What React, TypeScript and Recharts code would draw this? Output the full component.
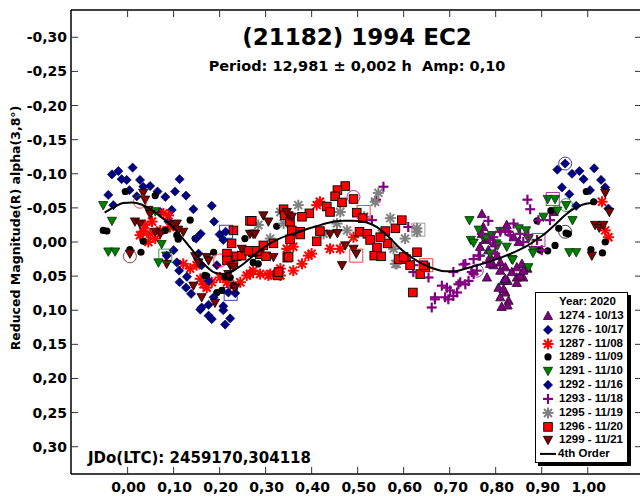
import React from 'react';
import { ScatterChart, Scatter, XAxis, YAxis } from 'recharts';

type Pt = [number, number];

// phase (x) and reduced magnitude (y)
const xTicks = [0, 0.1, 0.2, 0.3, 0.4, 0.5, 0.6, 0.7, 0.8, 0.9, 1.0];
const yTicks = [-0.3, -0.25, -0.2, -0.15, -0.1, -0.05, 0, 0.05, 0.1, 0.15, 0.2, 0.25, 0.3];

const s1274: Pt[] = [
  [0.770, -0.041], [0.773, -0.022], [0.770, -0.012], [0.777, -0.003], [0.766, 0.007], [0.784, 0.012],
  [0.797, 0.002], [0.788, 0.022], [0.803, 0.020], [0.810, 0.030], [0.795, 0.034], [0.821, 0.037],
  [0.835, 0.044], [0.846, 0.037], [0.857, 0.032], [0.869, 0.039], [0.846, 0.052], [0.860, 0.052],
  [0.817, 0.057], [0.826, 0.057], [0.781, 0.052], [0.806, 0.067], [0.821, 0.074], [0.810, 0.081],
  [0.828, 0.086], [0.813, 0.095], [0.826, 0.093], [0.839, -0.007], [0.850, 0.000], [0.824, -0.025],
  [0.926, -0.044], [0.788, 0.032], [0.810, 0.042], [0.821, 0.054], [0.817, 0.069], [0.853, 0.050],
  [0.846, 0.060], [0.860, 0.042],
];

const s1276: Pt[] = [
  [-0.034, -0.099], [-0.020, -0.104], [-0.013, -0.092], [-0.002, -0.091], [0.011, -0.109], [0.027, -0.091],
  [0.034, -0.081], [0.049, -0.082], [0.004, -0.076], [-0.042, -0.069], [-0.031, -0.054], [0.020, -0.067],
  [0.065, -0.074], [0.082, -0.066], [0.103, -0.074], [0.113, -0.092], [0.127, -0.068], [0.096, -0.047],
  [0.071, -0.044], [0.089, -0.030], [0.143, -0.048], [0.183, -0.053], [0.188, -0.030],
  [0.951, -0.115], [0.934, -0.106], [0.966, -0.100], [0.982, -0.104], [0.991, -0.092], [1.014, -0.108],
  [1.029, -0.091], [0.944, -0.080], [0.960, -0.070], [1.005, -0.076], [1.038, -0.080], [0.975, -0.053],
  [1.045, -0.049],
];

const s1287: Pt[] = [
  [0.034, -0.015], [0.049, -0.012], [0.060, -0.005], [0.071, -0.017], [0.078, -0.042], [0.089, -0.039],
  [0.038, -0.025], [0.053, -0.030], [0.092, -0.022], [0.121, 0.032], [0.136, 0.039], [0.150, 0.034],
  [0.158, 0.054], [0.172, 0.067], [0.183, 0.059], [0.201, 0.052], [0.216, 0.059], [0.230, 0.064],
  [0.245, 0.059], [0.259, 0.049], [0.273, 0.042], [0.288, 0.047], [0.027, -0.010], [0.045, 0.000],
  [0.165, 0.062], [0.266, 0.047], [0.310, 0.047], [0.332, 0.049], [0.360, 0.042], [0.379, 0.032],
  [0.393, 0.020], [0.306, 0.049], [0.332, 0.039], [0.346, 0.010], [0.360, 0.007], [0.400, 0.017],
  [0.440, 0.010], [0.462, 0.010], [0.491, -0.007], [0.418, -0.059], [0.411, -0.054],
  [1.031, -0.059], [1.038, -0.017], [1.045, -0.007],
];

const s1289: Pt[] = [
  [-0.053, -0.017], [-0.045, -0.016], [0.005, 0.011], [0.029, 0.015], [-0.005, -0.074], [0.060, -0.068],
  [0.034, -0.001], [0.082, -0.017], [0.107, -0.010], [0.136, -0.032], [0.110, -0.004], [0.147, -0.005],
  [0.187, 0.015], [0.168, 0.049], [0.172, 0.050], [0.212, 0.051], [0.223, 0.052], [0.205, 0.071],
  [0.194, 0.074], [0.255, -0.005], [0.273, 0.030], [0.284, 0.032], [0.324, -0.023], [0.230, 0.064],
  [0.997, -0.074], [1.013, -0.059], [0.920, -0.046], [0.890, -0.031], [0.937, -0.020], [0.953, -0.013],
  [0.958, -0.012], [0.929, 0.005], [0.913, 0.013], [0.897, 0.012], [1.007, 0.011], [1.032, 0.016],
  [1.038, 0.000],
];

const s1291: Pt[] = [
  [0.743, -0.032], [0.746, -0.003], [0.773, -0.007], [0.810, -0.016], [0.824, 0.007], [0.835, 0.025],
  [0.850, -0.020], [0.866, -0.017], [0.871, -0.005], [0.882, 0.012], [0.904, -0.037], [0.913, -0.063],
  [0.929, -0.063], [0.934, -0.046], [0.953, -0.054], [0.967, -0.032], [0.960, 0.015], [0.975, 0.015],
  [0.763, -0.018], [0.788, 0.017], [0.801, 0.002], [0.752, 0.001], [0.779, -0.006], [0.792, -0.010],
  [0.804, 0.005], [0.837, 0.026], [0.871, 0.037], [0.881, 0.016], [-0.053, -0.054], [-0.034, -0.031],
  [-0.042, 0.014], [-0.027, 0.014], [0.060, -0.045], [0.067, 0.030], [0.084, 0.020], [0.074, 0.003],
];

const s1292: Pt[] = [
  [0.159, -0.012], [0.149, -0.005], [0.200, -0.011], [0.208, -0.003], [0.213, -0.015], [0.107, 0.030],
  [0.112, 0.042], [0.129, 0.051], [0.113, 0.059], [0.127, 0.067], [0.138, 0.076], [0.161, 0.034],
  [0.176, 0.057], [0.194, 0.034], [0.154, 0.017], [0.161, 0.096], [0.176, 0.092], [0.187, 0.081],
  [0.208, 0.094], [0.219, 0.074], [0.234, 0.075], [0.100, 0.012], [0.085, 0.020], [0.158, 0.099],
  [0.176, 0.108], [0.183, 0.113], [0.208, 0.100], [0.223, 0.112], [0.212, 0.121],
];

const s1293: Pt[] = [
  [0.556, -0.081], [0.540, -0.062], [0.531, -0.032], [0.610, -0.022], [0.621, 0.034], [0.654, 0.052],
  [0.683, 0.064], [0.668, 0.081], [0.661, 0.096], [0.621, 0.044], [0.701, 0.071], [0.716, 0.074],
  [0.668, 0.084], [0.697, 0.084], [0.723, 0.059], [0.734, 0.062], [0.734, 0.032], [0.708, 0.044],
  [0.748, 0.044], [0.759, 0.042], [0.766, 0.020], [0.781, 0.030], [0.799, 0.017], [0.770, -0.012],
  [0.788, -0.003], [0.799, 0.005], [0.810, -0.015], [0.828, -0.015], [0.853, -0.012], [0.860, 0.000],
  [0.890, -0.003], [0.900, 0.012], [0.869, -0.062], [0.875, -0.048], [0.893, -0.032], [0.839, -0.027],
  [0.821, -0.017], [0.832, -0.010], [0.871, -0.010], [0.918, -0.032], [0.784, -0.031], [0.795, -0.007],
  [0.763, 0.020], [0.752, 0.025], [0.730, 0.033], [0.741, 0.057], [0.719, 0.062], [0.694, 0.067],
  [0.690, 0.081], [0.708, 0.079], [0.752, 0.047],
];

const s1295: Pt[] = [
  [0.371, -0.054], [0.332, -0.044], [0.462, -0.044], [0.545, -0.072], [0.538, -0.059], [0.571, -0.035],
  [0.629, -0.020], [0.603, -0.005], [0.585, 0.032], [0.477, -0.017], [0.455, -0.027], [0.426, -0.012],
  [0.339, -0.027], [0.310, -0.005], [0.514, -0.037], [0.553, -0.012], [0.578, 0.010], [0.582, 0.032],
  [0.629, -0.015], [0.284, -0.025],
];

const s1296: Pt[] = [
  [0.473, -0.082], [0.456, -0.076], [0.451, -0.067], [0.466, -0.058], [0.491, -0.063], [0.433, -0.052],
  [0.440, -0.044], [0.498, -0.043], [0.511, -0.035], [0.395, -0.042], [0.379, -0.037], [0.339, -0.048],
  [0.342, -0.039], [0.353, -0.030], [0.357, -0.017], [0.375, -0.015], [0.418, -0.016], [0.411, -0.001],
  [0.504, -0.015], [0.521, -0.012], [0.527, -0.003], [0.542, 0.008], [0.536, 0.020], [0.551, 0.021],
  [0.565, 0.002], [0.560, -0.016], [0.582, -0.020], [0.596, -0.032], [0.589, 0.025], [0.605, 0.025],
  [0.614, 0.034], [0.629, 0.015], [0.636, 0.047], [0.647, 0.037], [0.620, 0.074], [0.266, -0.031],
  [0.287, 0.018], [0.301, 0.021], [0.347, 0.023], [0.326, 0.049], [0.272, 0.015], [0.216, 0.017],
  [0.230, 0.030], [0.237, 0.021], [0.248, 0.020], [0.263, 0.013], [0.281, 0.013], [0.295, 0.005],
  [0.317, 0.002], [0.353, -0.004], [0.375, -0.011], [0.328, 0.044], [0.350, 0.022], [0.216, 0.027],
  [0.226, 0.002], [0.230, -0.017], [0.270, -0.031], [0.549, -0.007], [0.600, 0.022], [0.643, 0.034],
];

const s1299: Pt[] = [
  [0.034, -0.072], [0.038, -0.062], [0.016, -0.030], [0.027, -0.027], [0.045, -0.047], [0.049, -0.041],
  [0.060, -0.015], [0.071, -0.012], [0.100, -0.025], [0.107, -0.027], [0.121, -0.015], [0.110, -0.018],
  [0.085, 0.032], [0.005, 0.017], [0.147, 0.021], [0.154, 0.030], [0.172, 0.022], [0.176, 0.027],
  [0.143, 0.064], [0.161, 0.081], [0.190, 0.089], [0.219, 0.047], [0.223, 0.034], [0.230, 0.037],
  [0.234, 0.067], [0.248, 0.010], [0.266, -0.012], [0.273, -0.012], [0.295, -0.039], [0.306, -0.030],
  [0.350, -0.039], [0.357, -0.037], [0.346, -0.044], [0.440, -0.012], [0.456, -0.013], [0.473, 0.005],
  [0.491, 0.010], [0.497, 0.017], [0.466, 0.034], [0.277, -0.012], [0.317, 0.022],
  [1.038, -0.072], [1.047, -0.044], [1.016, -0.025], [1.025, -0.021], [1.034, -0.025], [1.009, 0.020],
];

// 4th order fit
const fit4: Pt[] = [
  [-0.05, -0.043], [-0.03, -0.051], [-0.01, -0.057], [0.01, -0.058], [0.03, -0.055], [0.05, -0.048],
  [0.07, -0.038], [0.09, -0.027], [0.11, -0.013], [0.13, 0.003], [0.15, 0.020], [0.17, 0.035],
  [0.19, 0.045], [0.21, 0.047], [0.23, 0.042], [0.25, 0.033], [0.27, 0.022], [0.29, 0.011],
  [0.31, 0.002], [0.33, -0.005], [0.35, -0.010], [0.37, -0.014], [0.39, -0.019], [0.41, -0.023],
  [0.43, -0.027], [0.45, -0.030], [0.47, -0.031], [0.49, -0.031], [0.51, -0.030], [0.53, -0.026],
  [0.55, -0.018], [0.57, -0.006], [0.59, 0.008], [0.61, 0.019], [0.63, 0.028], [0.65, 0.035],
  [0.67, 0.040], [0.69, 0.043], [0.71, 0.043], [0.73, 0.040], [0.75, 0.036], [0.77, 0.032],
  [0.79, 0.028], [0.81, 0.023], [0.83, 0.018], [0.85, 0.012], [0.87, 0.005], [0.89, -0.004],
  [0.91, -0.014], [0.93, -0.026], [0.95, -0.039], [0.97, -0.049], [0.99, -0.055], [1.01, -0.057],
];

// first point of each session, marked with an open circle or square
const ringMarks = [
  { set: '1299', x: 0.005, y: 0.021 }, { set: '1287', x: 0.027, y: -0.059 }, { set: '1287', x: 0.201, y: 0.027 },
  { set: '1293', x: 0.491, y: -0.066 }, { set: '1293', x: 0.759, y: 0.042 }, { set: '1291', x: 0.953, y: -0.054 },
  { set: '1289', x: 0.951, y: -0.015 }, { set: '1276', x: 0.951, y: -0.115 },
];
const boxMarks = [
  { set: '1291', x: 0.082, y: 0.020 }, { set: '1276', x: 0.214, y: -0.015 }, { set: '1292', x: 0.224, y: 0.076 },
  { set: '1296', x: 0.497, y: 0.020 }, { set: '1296', x: 0.513, y: -0.044 }, { set: '1296', x: 0.649, y: 0.034 },
  { set: '1295', x: 0.632, y: -0.018 }, { set: '1274', x: 0.924, y: -0.063 }, { set: '1274', x: 0.893, y: -0.003 },
];

const sessions = [
  { key: '1274', label: '1274 - 10/13', pts: s1274 },
  { key: '1276', label: '1276 - 10/17', pts: s1276 },
  { key: '1287', label: '1287 - 11/08', pts: s1287 },
  { key: '1289', label: '1289 - 11/09', pts: s1289 },
  { key: '1291', label: '1291 - 11/10', pts: s1291 },
  { key: '1292', label: '1292 - 11/16', pts: s1292 },
  { key: '1293', label: '1293 - 11/18', pts: s1293 },
  { key: '1295', label: '1295 - 11/19', pts: s1295 },
  { key: '1296', label: '1296 - 11/20', pts: s1296 },
  { key: '1299', label: '1299 - 11/21', pts: s1299 },
];

type Kind = 'triUp' | 'triDown' | 'diamond' | 'star' | 'circle' | 'plus' | 'square';

const look: Record<string, { kind: Kind; fill: string; stroke: string }> = {
  '1274': { kind: 'triUp', fill: '#800080', stroke: '#2a002a' },
  '1276': { kind: 'diamond', fill: '#000080', stroke: '#000050' },
  '1287': { kind: 'star', fill: '#ff0000', stroke: '#ff0000' },
  '1289': { kind: 'circle', fill: '#000000', stroke: '#000000' },
  '1291': { kind: 'triDown', fill: '#008000', stroke: '#003000' },
  '1292': { kind: 'diamond', fill: '#000080', stroke: '#000050' },
  '1293': { kind: 'plus', fill: '#800080', stroke: '#800080' },
  '1295': { kind: 'star', fill: '#808080', stroke: '#808080' },
  '1296': { kind: 'square', fill: '#ff0000', stroke: '#000000' },
  '1299': { kind: 'triDown', fill: '#800000', stroke: '#000000' },
};

const FONT = '"DejaVu Sans", sans-serif';
const fmt = (v: number) => (v < -0.0001 ? '-' : '') + Math.abs(v).toFixed(2).replace('.', ',');
const toXY = (pts: Pt[]) => pts.map(([x, y]) => ({ x, y }));

function Marker({ kind, cx, cy, fill, stroke }: { kind: Kind; cx: number; cy: number; fill: string; stroke: string }) {
  if (cx == null || cy == null) return <g />;
  switch (kind) {
    case 'triUp':
      return <polygon points={`${cx},${cy - 4.8} ${cx + 4.6},${cy + 3.6} ${cx - 4.6},${cy + 3.6}`} fill={fill} stroke={stroke} strokeWidth={0.8} />;
    case 'triDown':
      return <polygon points={`${cx},${cy + 4.8} ${cx + 4.6},${cy - 3.6} ${cx - 4.6},${cy - 3.6}`} fill={fill} stroke={stroke} strokeWidth={0.8} />;
    case 'diamond':
      return <polygon points={`${cx},${cy - 4.6} ${cx + 4.6},${cy} ${cx},${cy + 4.6} ${cx - 4.6},${cy}`} fill={fill} stroke={stroke} strokeWidth={0.6} />;
    case 'square':
      return <rect x={cx - 4.3} y={cy - 4.3} width={8.6} height={8.6} fill={fill} stroke={stroke} strokeWidth={0.9} />;
    case 'circle':
      return <circle cx={cx} cy={cy} r={3.6} fill={fill} />;
    case 'plus':
      return (
        <g stroke={stroke} strokeWidth={2.2}>
          <line x1={cx - 5} y1={cy} x2={cx + 5} y2={cy} />
          <line x1={cx} y1={cy - 5} x2={cx} y2={cy + 5} />
        </g>
      );
    case 'star':
      return (
        <g stroke={stroke} strokeWidth={2}>
          <line x1={cx - 5.5} y1={cy} x2={cx + 5.5} y2={cy} />
          <line x1={cx} y1={cy - 5.5} x2={cx} y2={cy + 5.5} />
          <line x1={cx - 4} y1={cy - 4} x2={cx + 4} y2={cy + 4} />
          <line x1={cx - 4} y1={cy + 4} x2={cx + 4} y2={cy - 4} />
        </g>
      );
  }
  return <g />;
}

const tickText = { fontFamily: FONT, fontWeight: 700, fontSize: 14, fill: '#000' };

function BottomTick({ x, y, payload }: any) {
  return (
    <g>
      <line x1={x} y1={y} x2={x} y2={y - 7} stroke="#333" />
      <text x={x + 1} y={y + 18} textAnchor="middle" {...tickText}>{fmt(payload.value)}</text>
    </g>
  );
}
function TopTick({ x, y }: any) {
  return <line x1={x} y1={y} x2={x} y2={y + 7} stroke="#333" />;
}
function LeftTick({ x, y, payload }: any) {
  return (
    <g>
      <line x1={x} y1={y} x2={x + 7} y2={y} stroke="#333" />
      <text x={x - 4} y={y + 5} textAnchor="end" {...tickText}>{fmt(payload.value)}</text>
    </g>
  );
}
function RightTick({ x, y }: any) {
  return <line x1={x} y1={y} x2={x - 7} y2={y} stroke="#333" />;
}

const X_DOMAIN: [number, number] = [-0.123, 1.118];
const Y_DOMAIN: [number, number] = [-0.34, 0.34];
const axisLine = { stroke: '#000', strokeWidth: 1.5 };

function Legend() {
  const rowH = 13.85;
  return (
    <div
      style={{
        position: 'absolute', left: 535, top: 292, width: 93, height: 171, boxSizing: 'border-box',
        border: '1px solid #000', background: '#fff', boxShadow: '3px 3px 0 #000', paddingTop: 2,
        fontFamily: '"Liberation Sans", Arial, sans-serif', fontWeight: 700, fontSize: 11.5, color: '#000',
      }}
    >
      <div style={{ height: rowH, lineHeight: `${rowH}px`, paddingLeft: 23, whiteSpace: 'nowrap' }}>Year: 2020</div>
      {sessions.map((s) => (
        <div key={s.key} style={{ height: rowH, lineHeight: `${rowH}px`, display: 'flex', alignItems: 'center', whiteSpace: 'nowrap' }}>
          <svg width={23} height={rowH} style={{ flex: 'none' }}>
            <Marker kind={look[s.key].kind} cx={12} cy={rowH / 2} fill={look[s.key].fill} stroke={look[s.key].stroke} />
          </svg>
          <span>{s.label}</span>
        </div>
      ))}
      <div style={{ height: rowH, lineHeight: `${rowH}px`, display: 'flex', alignItems: 'center', whiteSpace: 'nowrap' }}>
        <svg width={22} height={rowH} style={{ flex: 'none' }}>
          <line x1={4} y1={rowH / 2} x2={20} y2={rowH / 2} stroke="#000" strokeWidth={2} />
        </svg>
        <span>4th Order</span>
      </div>
    </div>
  );
}

export default function App() {
  return (
    <div style={{ position: 'fixed', left: 0, top: 0, width: 640, height: 496, overflow: 'hidden', background: '#fff' }}>
      <div style={{ position: 'relative', width: 650, height: 496 }}>
        <ScatterChart width={650} height={496} margin={{ top: 0, right: 0, bottom: 0, left: 0 }}>
          <XAxis
            type="number" dataKey="x" domain={X_DOMAIN} allowDataOverflow ticks={xTicks} interval={0}
            height={22} tickSize={0} tickMargin={0} tickLine={false} axisLine={axisLine} tick={(p: any) => <BottomTick {...p} />}
          />
          <XAxis
            xAxisId="top" orientation="top" type="number" dataKey="x" domain={X_DOMAIN} allowDataOverflow ticks={xTicks}
            interval={0} height={10} tickSize={0} tickMargin={0} tickLine={false} axisLine={axisLine} tick={(p: any) => <TopTick {...p} />}
          />
          <YAxis
            type="number" dataKey="y" domain={Y_DOMAIN} reversed allowDataOverflow ticks={yTicks} interval={0}
            width={71} tickSize={0} tickMargin={0} tickLine={false} axisLine={axisLine} tick={(p: any) => <LeftTick {...p} />}
          />
          <YAxis
            yAxisId="right" orientation="right" type="number" dataKey="y" domain={Y_DOMAIN} reversed allowDataOverflow
            ticks={yTicks} interval={0} width={8} tickSize={0} tickMargin={0} tickLine={false} axisLine={axisLine}
            tick={(p: any) => <RightTick {...p} />}
          />
          {sessions.map((s) => (
            <Scatter
              key={s.key} name={s.label} data={toXY(s.pts)} isAnimationActive={false}
              shape={(p: any) => <Marker kind={look[s.key].kind} cx={p.cx} cy={p.cy} fill={look[s.key].fill} stroke={look[s.key].stroke} />}
            />
          ))}
          <Scatter
            name="rings" data={ringMarks} isAnimationActive={false} legendType="none"
            shape={(p: any) => <circle cx={p.cx} cy={p.cy} r={6.5} fill="none" stroke={look[p.payload.set].fill} strokeOpacity={0.75} />}
          />
          <Scatter
            name="boxes" data={boxMarks} isAnimationActive={false} legendType="none"
            shape={(p: any) => <rect x={p.cx - 6.5} y={p.cy - 6.5} width={13} height={13} fill="none" stroke={look[p.payload.set].fill} strokeOpacity={0.75} />}
          />
          <Scatter
            name="4th Order" data={toXY(fit4)} isAnimationActive={false} legendType="none"
            line={{ stroke: '#000', strokeWidth: 2 }} lineJointType="monotoneX" shape={() => <g />}
          />
        </ScatterChart>
        <svg width={650} height={496} style={{ position: 'absolute', left: 0, top: 0, pointerEvents: 'none' }}>
          <text x={357} y={45} textAnchor="middle" fontFamily={FONT} fontWeight={700} fontSize={23}>(21182) 1994 EC2</text>
          <text x={357} y={71} textAnchor="middle" fontFamily={FONT} fontWeight={700} fontSize={14.5}>
            Period: 12,981 ± 0,002 h{'\u00a0\u00a0'}Amp: 0,10
          </text>
          <text x={88} y={463} fontFamily={FONT} fontWeight={700} fontSize={15}>JDo(LTC): 2459170,304118</text>
          <text x={19.5} y={228} transform="rotate(-90 19.5 228)" textAnchor="middle" fontFamily={FONT} fontWeight={700} fontSize={12.5}>
            Reduced Magnitude(R) alpha(3,8°)
          </text>
        </svg>
        <Legend />
      </div>
    </div>
  );
}
